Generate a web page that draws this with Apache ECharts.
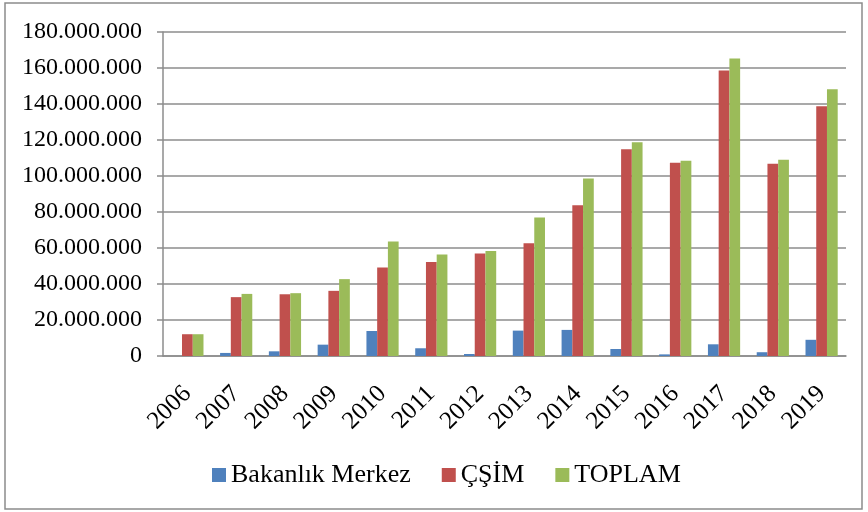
<!DOCTYPE html>
<html>
<head>
<meta charset="utf-8">
<script src="https://cdn.jsdelivr.net/npm/echarts@6/dist/echarts.min.js"></script>
<style>
  html, body { margin: 0; padding: 0; background: #fff; }
  #chart { width: 868px; height: 512px; }
</style>
</head>
<body>
<div id="chart"></div>
<script>
const years = ["2006", "2007", "2008", "2009", "2010", "2011", "2012", "2013", "2014", "2015", "2016", "2017", "2018", "2019"];
const bakanlikMerkez = [0, 1700000, 2600000, 6300000, 13900000, 4300000, 1100000, 14100000, 14500000, 3900000, 900000, 6500000, 2100000, 9000000];
const csim = [12100000, 32700000, 34300000, 36200000, 49200000, 52200000, 57000000, 62600000, 83700000, 114800000, 107400000, 158600000, 106800000, 138700000];
const toplam = [12100000, 34500000, 34900000, 42700000, 63600000, 56400000, 58400000, 76900000, 98600000, 118700000, 108500000, 165300000, 109000000, 148200000];

const font = "Liberation Serif";
const gridColor = "#8c8c8c";

// 180000000 -> 180.000.000
const dotted = (v) => String(Math.round(v)).replace(/\B(?=(\d{3})+(?!\d))/g, ".");

const chart = echarts.init(document.getElementById("chart"));
chart.setOption({
  animation: false,
  color: ["#4f81bd", "#c0504d", "#9bbb59"],
  textStyle: { fontFamily: font, color: "#000" },
  graphic: [
    {
      type: "rect",
      shape: { x: 5, y: 3, width: 857, height: 506 },
      style: { fill: "none", stroke: gridColor, lineWidth: 1.5 },
    },
  ],
  grid: { left: 163, right: 22, top: 32, bottom: 156 },
  legend: {
    top: 457,
    left: 207,
    itemWidth: 14,
    itemHeight: 14,
    itemGap: 31,
    icon: "rect",
    textStyle: { fontFamily: font, fontSize: 26, color: "#000" },
    data: ["Bakanlık Merkez", "ÇŞİM", "TOPLAM"],
  },
  xAxis: {
    type: "category",
    data: years,
    axisLine: { lineStyle: { color: gridColor, width: 1.5 } },
    axisTick: { length: 6, lineStyle: { color: gridColor, width: 1.5 } },
    axisLabel: {
      rotate: 45,
      margin: 34,
      fontFamily: font,
      fontSize: 25,
      color: "#000",
      interval: 0,
    },
  },
  yAxis: {
    type: "value",
    min: 0,
    max: 180000000,
    interval: 20000000,
    axisLine: { show: true, lineStyle: { color: gridColor, width: 1.5 } },
    axisTick: { show: true, length: 6, lineStyle: { color: gridColor, width: 1.5 } },
    splitLine: { lineStyle: { color: gridColor, width: 1.5 } },
    axisLabel: {
      margin: 21,
      fontFamily: font,
      fontSize: 24,
      color: "#000",
      formatter: dotted,
    },
  },
  series: [
    { name: "Bakanlık Merkez", type: "bar", data: bakanlikMerkez, barGap: "0%", barCategoryGap: "34%" },
    { name: "ÇŞİM", type: "bar", data: csim, barGap: "0%", barCategoryGap: "34%" },
    { name: "TOPLAM", type: "bar", data: toplam, barGap: "0%", barCategoryGap: "34%" },
  ],
});
</script>
</body>
</html>
